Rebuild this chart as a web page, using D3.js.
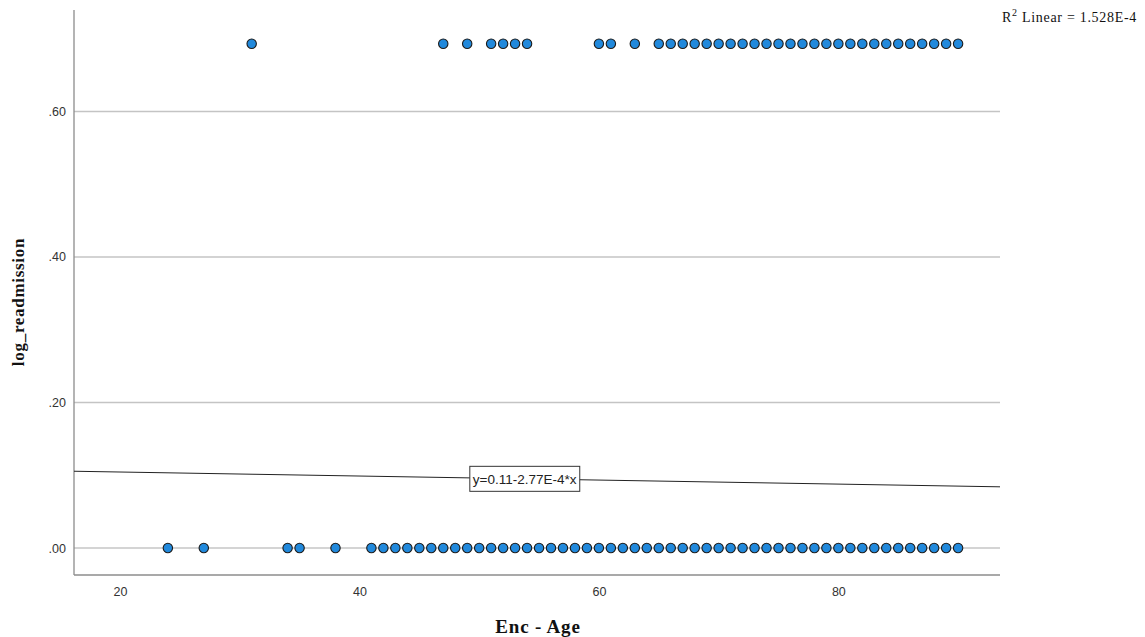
<!DOCTYPE html>
<html><head><meta charset="utf-8">
<script src="https://cdn.jsdelivr.net/npm/d3@7"></script>
<style>body{margin:0;background:#fff}svg{display:block}</style>
</head><body>
<svg id="c" width="1145" height="637"></svg>
<script>
// Data
const agesReadmitted = [31,47,49,51,52,53,54,60,61,63,65,66,67,68,69,70,71,72,73,74,75,76,77,78,79,80,81,82,83,84,85,86,87,88,89,90];
const agesNotReadmitted = [24,27,34,35,38,41,42,43,44,45,46,47,48,49,50,51,52,53,54,55,56,57,58,59,60,61,62,63,64,65,66,67,68,69,70,71,72,73,74,75,76,77,78,79,80,81,82,83,84,85,86,87,88,89,90];
const readmittedValue = 0.6931;
const notReadmittedValue = 0;
const xTicks = [20,40,60,80];
const yTicks = [0,0.2,0.4,0.6];
const fitIntercept = 0.11;
const fitSlope = -2.77e-4;
const fitLabel = "y=0.11-2.77E-4*x";
const r2Label = "1.528E-4";

const points = agesReadmitted.map(a=>({x:a,y:readmittedValue}))
  .concat(agesNotReadmitted.map(a=>({x:a,y:notReadmittedValue})));

const svg = d3.select("#c");
const L=74,R=1000,T=10,B=575;
const x = d3.scaleLinear().domain([16.16,93.5]).range([L,R]);
const y = d3.scaleLinear().domain([-0.0371,0.7395]).range([B,T]);

// gridlines
svg.append("g").selectAll("line").data(yTicks).join("line")
  .attr("x1",L).attr("x2",R).attr("y1",d=>y(d)).attr("y2",d=>y(d))
  .attr("stroke",d=>d===0?"#d4d4d4":"#c4c4c4").attr("stroke-width",d=>d===0?2:1.3);

// axes
const yAxis = svg.append("g").attr("transform",`translate(${L},0)`)
  .call(d3.axisLeft(y).tickValues(yTicks).tickSize(0).tickPadding(8)
    .tickFormat(d=>d3.format(".2f")(d).replace(/^0/,"")));
const xAxis = svg.append("g").attr("transform",`translate(0,${B})`)
  .call(d3.axisBottom(x).tickValues(xTicks).tickSize(0).tickPadding(12).tickFormat(d3.format("d")));
[yAxis,xAxis].forEach(g=>{
  g.select(".domain").attr("stroke","#8c8c8c").attr("stroke-width",1.3);
  g.selectAll("text").attr("font-family","Liberation Sans, Arial, sans-serif").attr("font-size",12.5).attr("fill","#333");
});
xAxis.select(".domain").attr("d",`M${L},0H${R}`);
yAxis.select(".domain").attr("d",`M0,${T}V${B}`);

// fit line
const x0=x.domain()[0], x1=x.domain()[1];
svg.append("line").attr("x1",x(x0)).attr("x2",x(x1))
  .attr("y1",y(fitIntercept+fitSlope*x0)).attr("y2",y(fitIntercept+fitSlope*x1))
  .attr("stroke","#222").attr("stroke-width",1);

// points
svg.append("g").selectAll("circle").data(points).join("circle")
  .attr("cx",d=>x(d.x)).attr("cy",d=>y(d.y)).attr("r",4.7)
  .attr("fill","#2189dc").attr("stroke","#1a1a1a").attr("stroke-width",1.1);

// equation label
const ex = x(53.8), ey = y(fitIntercept+fitSlope*53.8);
const lab = svg.append("g");
const t = lab.append("text").attr("x",ex).attr("y",ey+5).attr("text-anchor","middle")
  .attr("font-family","Liberation Sans, Arial, sans-serif").attr("font-size",13.5).attr("fill","#222").text(fitLabel);
const bb = t.node().getBBox();
lab.insert("rect","text").attr("x",bb.x-3).attr("y",ey-12.5).attr("width",bb.width+6).attr("height",25)
  .attr("fill","#fff").attr("stroke","#333").attr("stroke-width",1);

// axis titles
svg.append("text").attr("x",538).attr("y",633).attr("text-anchor","middle")
  .attr("font-family","Liberation Serif, Times New Roman, serif").attr("font-weight","bold").attr("font-size",19)
  .attr("letter-spacing",0.8).attr("fill","#111").text("Enc - Age");
svg.append("text").attr("transform","translate(24,302) rotate(-90)").attr("text-anchor","middle")
  .attr("font-family","Liberation Serif, Times New Roman, serif").attr("font-weight","bold").attr("font-size",17)
  .attr("letter-spacing",0.7).attr("fill","#111").text("log_readmission");

// R2 label
const r2 = svg.append("text").attr("x",1002).attr("y",22)
  .attr("font-family","Liberation Serif, Times New Roman, serif").attr("font-size",14).attr("letter-spacing",0.7).attr("fill","#111");
r2.append("tspan").text("R");
r2.append("tspan").attr("dy",-6).attr("font-size",10).text("2");
r2.append("tspan").attr("dy",6).text(" Linear = "+r2Label);
</script>
</body></html>
